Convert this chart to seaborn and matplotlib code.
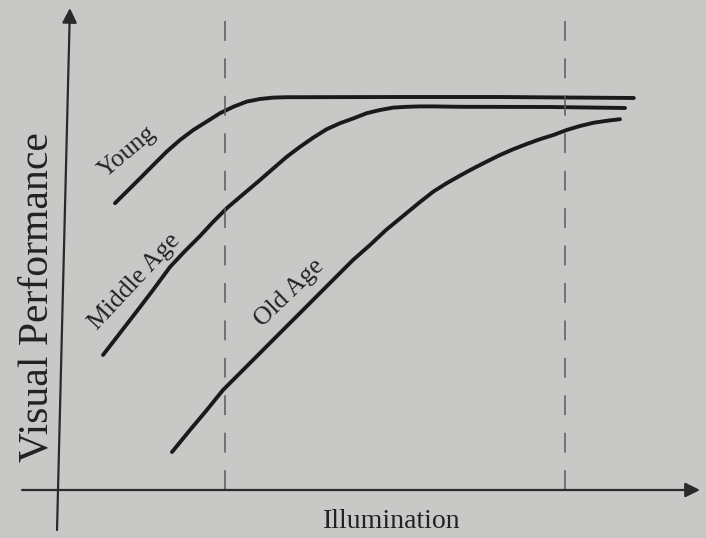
import numpy as np
import pandas as pd
import matplotlib
matplotlib.use('Agg')
import matplotlib.pyplot as plt
import seaborn as sns

# values (illumination 0-100, visual performance 0-100)
young_x = [8.25, 10.11, 12.22, 14.33, 16.46, 18.57, 20.68, 22.81, 24.92, 27.03,
           29.16, 31.27, 33.38, 35.51, 37.62, 53.5, 69.4, 90.6]
young_y = [71.7, 74.6, 77.9, 81.25, 84.6, 87.5, 90.0, 92.1, 94.2, 95.8,
           97.1, 97.75, 98.1, 98.2, 98.2, 98.25, 98.25, 98.0]

middle_x = [6.35, 9.05, 11.75, 14.29, 16.98, 19.37, 21.75, 23.81, 26.03, 28.57,
            31.27, 33.38, 35.51, 37.62, 39.73, 41.86, 43.97, 46.08, 48.21, 50.32,
            52.43, 54.56, 56.67, 58.78, 63.02, 77.3, 89.2]
middle_y = [33.75, 39.25, 44.75, 50.0, 55.75, 59.75, 63.5, 67.0, 70.5, 73.9,
            77.5, 80.4, 83.3, 85.8, 88.1, 90.2, 91.7, 92.9, 94.2, 95.0,
            95.6, 95.8, 95.9, 95.9, 95.8, 95.75, 95.5]

old_x = [17.3, 20.16, 22.7, 25.4, 28.1, 31.27, 34.44, 37.62, 40.79, 43.33,
         46.03, 48.73, 51.27, 53.97, 56.67, 58.78, 60.9, 63.02, 65.13, 67.25,
         69.37, 71.48, 73.6, 75.71, 77.83, 79.95, 82.06, 84.17, 86.3, 88.41]
old_y = [9.5, 15.0, 19.75, 25.0, 29.25, 34.25, 39.25, 44.25, 49.25, 53.25,
         57.5, 61.25, 65.0, 68.5, 72.0, 74.6, 76.7, 78.6, 80.4, 82.1,
         83.75, 85.2, 86.5, 87.7, 88.75, 90.0, 91.0, 91.8, 92.3, 92.7]

groups = ['Young', 'Middle Age', 'Old Age']
thresholds = [25.7, 79.7]

df = pd.concat([
    pd.DataFrame({'illumination': young_x, 'performance': young_y, 'group': 'Young'}),
    pd.DataFrame({'illumination': middle_x, 'performance': middle_y, 'group': 'Middle Age'}),
    pd.DataFrame({'illumination': old_x, 'performance': old_y, 'group': 'Old Age'}),
])

sns.set_theme(style='white')
plt.rcParams['font.family'] = ['Liberation Serif', 'DejaVu Serif']

bg = '#c8c9c7'
ink = '#1a1a1a'
text_ink = '#222222'

fig = plt.figure(figsize=(7.06, 5.38), dpi=100)
fig.patch.set_facecolor(bg)
ax = fig.add_axes([0, 0, 1, 1])
ax.set_facecolor(bg)

sns.lineplot(data=df, x='illumination', y='performance', hue='group',
             palette={g: ink for g in groups}, units='group', estimator=None,
             sort=False, lw=2.8, legend=False, ax=ax,
             solid_joinstyle='round', solid_capstyle='round')

# dashed reference lines
ax.vlines(thresholds, 0, 120, colors='#5a5a5a', lw=1.1, linestyles=[(0, (13, 11.5))])

# axes with arrows
arrow = dict(arrowstyle='-|>', color='#2a2a2a', lw=1.6, mutation_scale=22,
             shrinkA=0, shrinkB=0)
ax.annotate('', xy=(101.1, 0), xytext=(-6.5, 0), arrowprops=arrow)
ax.annotate('', xy=(1.1, 120.5), xytext=(-0.95, -10), arrowprops=arrow)

# curve labels
txt = dict(color=text_ink, ha='center', va='center', rotation_mode='anchor', fontsize=18.5)
ax.text(10.2, 84.5, 'Young', rotation=40, **txt)
ax.text(11.4, 52.0, 'Middle Age', rotation=47, **txt)
ax.text(36.0, 49.3, 'Old Age', rotation=44, **txt)

ax.text(52.2, -7.75, 'Illumination', color=text_ink, ha='center', va='center', fontsize=20)
ax.text(-4.1, 48.25, 'Visual Performance', color=text_ink, ha='center', va='center',
        rotation=90, fontsize=30)

ax.set_xlim(-10.0, 102.06)
ax.set_ylim(-12, 122.5)
ax.axis('off')

fig.savefig('out.png', dpi=100, facecolor=bg)
